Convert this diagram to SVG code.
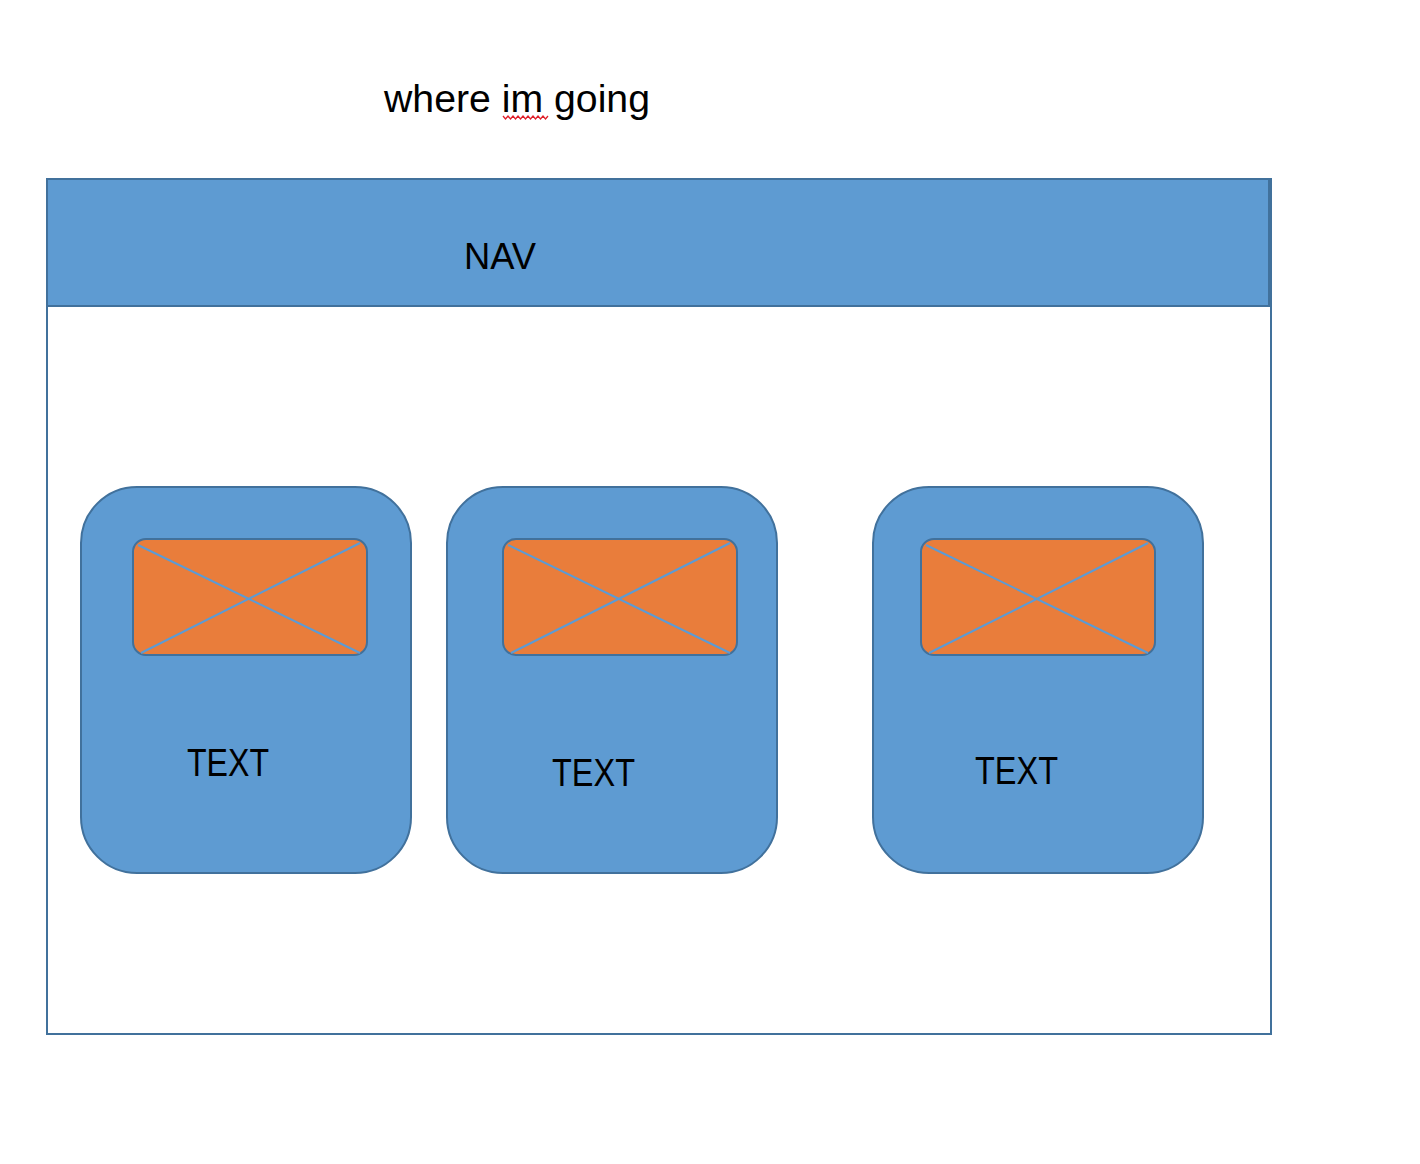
<svg xmlns="http://www.w3.org/2000/svg" width="1420" height="1164" viewBox="0 0 1420 1164">
<style>
.lbl{font-family:"Liberation Sans","Noto Sans",sans-serif;fill:#000}
.card{fill:#5E9BD2;stroke:#41719C;stroke-width:2}
.img{fill:#E97D3B;stroke:#41719C;stroke-width:2}
.x{stroke:#5B9BD5;stroke-width:2;fill:none}
</style>
<rect width="1420" height="1164" fill="#fff"/>
<g id="title">
<text class="lbl" x="384" y="112" font-size="39" textLength="266" lengthAdjust="spacingAndGlyphs">where im going</text>
<path d="M503 116 l2.5 3 l2.5 -3 l2.5 3 l2.5 -3 l2.5 3 l2.5 -3 l2.5 3 l2.5 -3 l2.5 3 l2.5 -3 l2.5 3 l2.5 -3 l2.5 3 l2.5 -3 l2.5 3 l2.5 -3 l2.5 3 l2.5 -3" fill="none" stroke="#E0202A" stroke-width="1.3"/>
</g>
<g id="page">
<rect x="47" y="179" width="1224" height="855" fill="#fff" stroke="#41719C" stroke-width="2"/>
</g>
<g id="nav">
<rect x="47" y="179" width="1222" height="127" fill="#5E9BD2" stroke="#41719C" stroke-width="2"/>
<text class="lbl" x="464" y="269" font-size="36" textLength="72" lengthAdjust="spacingAndGlyphs">NAV</text>
</g>
<g id="card1">
<rect class="card" x="81" y="487" width="330" height="386" rx="56"/>
<rect class="img" x="133" y="539" width="234" height="116" rx="13"/>
<line class="x" x1="138" y1="545" x2="360" y2="653"/>
<line class="x" x1="141" y1="653" x2="360" y2="543"/>
<text class="lbl" x="187" y="776" font-size="38" textLength="82" lengthAdjust="spacingAndGlyphs">TEXT</text>
</g>
<g id="card2">
<rect class="card" x="447" y="487" width="330" height="386" rx="56"/>
<rect class="img" x="503" y="539" width="234" height="116" rx="13"/>
<line class="x" x1="508" y1="545" x2="730" y2="653"/>
<line class="x" x1="511" y1="653" x2="730" y2="543"/>
<text class="lbl" x="552" y="786" font-size="38" textLength="83" lengthAdjust="spacingAndGlyphs">TEXT</text>
</g>
<g id="card3">
<rect class="card" x="873" y="487" width="330" height="386" rx="56"/>
<rect class="img" x="921" y="539" width="234" height="116" rx="13"/>
<line class="x" x1="926" y1="545" x2="1148" y2="653"/>
<line class="x" x1="929" y1="653" x2="1148" y2="543"/>
<text class="lbl" x="975" y="784" font-size="38" textLength="83" lengthAdjust="spacingAndGlyphs">TEXT</text>
</g>
<g id="connectors"></g>
</svg>
